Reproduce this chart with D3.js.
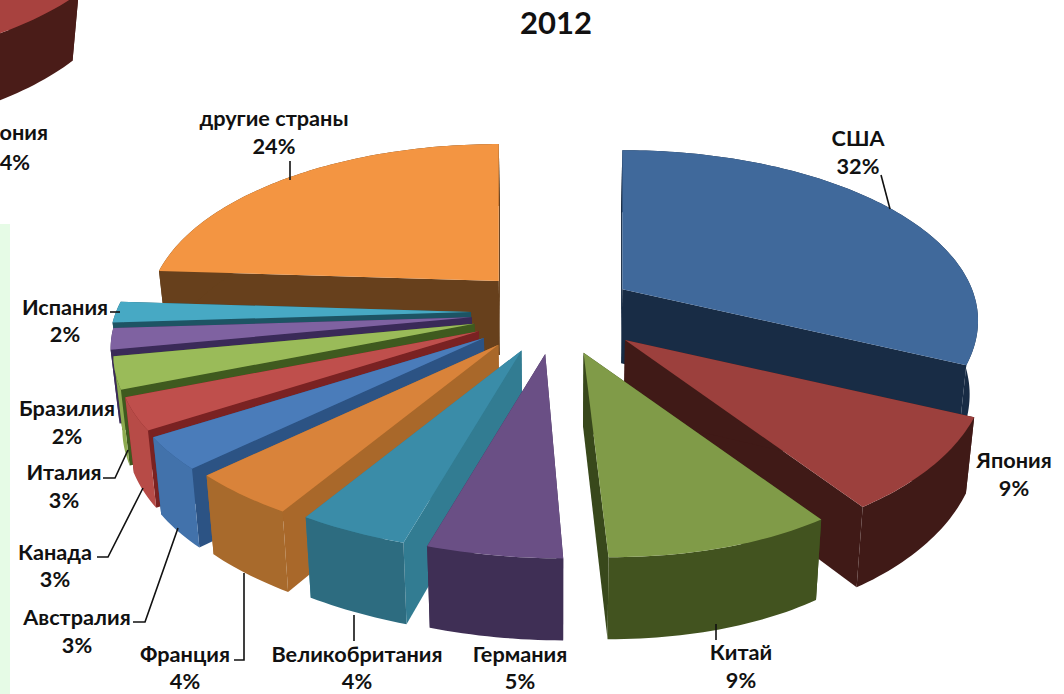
<!DOCTYPE html>
<html><head><meta charset="utf-8">
<script src="https://d3js.org/d3.v7.min.js"></script>
<style>html,body{margin:0;padding:0;background:#fff}svg{display:block}text{font-family:Lato,"Open Sans",sans-serif;font-weight:700;fill:#111}</style>
</head><body><svg id="c" width="1064" height="694"></svg>
<script>
// ---- data ----
const countries=["США","Япония","Китай","Германия","Великобритания","Франция","Австралия","Канада","Италия","Бразилия","Испания","другие страны"];
const shares=[32,9,9,5,4,4,3,3,3,2,2,24];
const chartTitle="2012";
// clipped neighbour pie (the 2011 chart) at the top-left corner
const neighbourShares=[37.5,12,50.5];
const neighbourLabel=["ония","4%"];
// ---- styles ----
const topColors =["#40699b","#9c403d","#809b48","#6a4f85","#3a8ca8","#d9833a","#4a7cba","#bf4f4c","#9abb59","#7f62a1","#47a9c4","#f39542"];
const outerColors=["#182c45","#401a17","#42531f","#3f2f55","#2d6c80","#a86a2c","#4272ab","#b74b47","#8dab50","#3a2a58","#1d5464","#67401c"];
const sideColors =["#182c45","#401a17","#38481b","#3f2f55","#327c92","#a9682a","#2c5384","#7a2222","#3f5a1f","#3a2a58","#1d5464","#67401c"];
// ---- layout ----
const W=1064,H=694, cx=559, cy=312;
const explodeX=[75,88,88,88,88,95,95,90,88,88,88,88], explodeY=42.5;
const radiusK=[0.985,1,1,1,1,1,1,1,1,1,1,0.97];
const R=355, tilt=167, persp=0.183;
const xs=d3.scaleLinear([-1,1],[-R,R]);
const ys=d3.scaleLinear([-1,1],[-tilt,tilt]);
const depth=d3.scaleLinear([-1,1],[62,82]);
const svg=d3.select("#c");
svg.append("rect").attr("width",10).attr("x",0).attr("y",224).attr("height",H-224).attr("fill","#e6fbe6");
const line=d3.line();
function rim(a,th,rk,leanAmt){
  const u=Math.sin(th),v=-Math.cos(th),s=rk/(1-persp*v);
  const lean=v>0?leanAmt*v*v*v*v:0;
  return [a[0]+xs(u)*s+lean,a[1]+ys(v)*s,v];
}
function lower(p,c,k){return [p[0]-(p[0]-c)*0.02,p[1]+depth(p[2]!==undefined?p[2]:0.2)*k];}
function drawSlice(g,d,a,c,k,rk,top,outer,side){
  const n=Math.max(2,Math.ceil((d.endAngle-d.startAngle)/0.02));
  const leanAmt=(d.startAngle+d.endAngle)/2<Math.PI?25:18;
  const arc=d3.range(n+1).map(i=>rim(a,d.startAngle+(d.endAngle-d.startAngle)*i/n,rk,leanAmt));
  const apex=[a[0],a[1],0.2];
  const aB=lower(apex,c,k);
  const arcB=arc.map(p=>lower(p,c,k));
  const first=arc[0],last=arc[n];
  g.append("path").attr("d",line([apex,last,lower(last,c,k),aB].map(p=>p.slice(0,2)))+"Z").attr("fill",side);
  g.append("path").attr("d",line([apex,first,lower(first,c,k),aB].map(p=>p.slice(0,2)))+"Z").attr("fill",side);
  g.append("path").attr("d",line(arc.map(p=>p.slice(0,2)).concat(arcB.slice().reverse()))+"Z").attr("fill",outer);
  g.append("path").attr("d",line([apex.slice(0,2)].concat(arc.map(p=>p.slice(0,2))))+"Z").attr("fill",top);
}
const pie=d3.pie().sort(null).value(d=>d);
const arcs=pie(shares).map((d,i)=>{
  const m=(d.startAngle+d.endAngle)/2;
  return {d,i,m,a:[cx+explodeX[i]*Math.sin(m),cy-explodeY*Math.cos(m)],key:-Math.cos(m)};
}).sort((p,q)=>p.key-q.key);
const gPie=svg.append("g");
arcs.forEach(s=>drawSlice(gPie.append("g"),s.d,s.a,cx,1,radiusK[s.i],topColors[s.i],outerColors[s.i],sideColors[s.i]));
// neighbour fragment
const nb=pie(neighbourShares)[1];
drawSlice(svg.append("g"),nb,[-216,-142],-223,0.85,1,"#a8423f","#4a1c18","#4a1c18");
// ---- labels ----
const labelPos=[[858,138,858,166],[1014,460,1014,488],[741,652,741,680],[520,654,520,681],[357,654,357,681],[185,654,185,681],[77,617,77,645],[55,552,55,579],[64,472,64,500],[67,408,67,436],[65,307,65,334],[274,118,274,146]];
const leaders=[[[881,175],[890,209]],null,[[716,624],[716,640]],null,[[354,615],[354,641]],[[244,573],[244,660],[234,660]],[[178,528],[145,622],[133,622]],[[143,488],[108,557],[97,557]],[[128,450],[115,478],[103,478]],null,[[120,312],[110,312]],[[290,161],[290,180]]];
leaders.forEach(l=>{if(l)svg.append("path").attr("d",line(l)).attr("fill","none").attr("stroke","#111").attr("stroke-width",1.6);});
const fs=21.7;
countries.forEach((c,i)=>{
  const p=labelPos[i];
  svg.append("text").attr("x",p[0]).attr("y",p[1]).attr("dy","0.35em").attr("text-anchor","middle").attr("font-size",fs).text(c);
  svg.append("text").attr("x",p[2]).attr("y",p[3]).attr("dy","0.35em").attr("text-anchor","middle").attr("font-size",fs).text(shares[i]+"%");
});
svg.append("text").attr("x",556).attr("y",23).attr("dy","0.35em").attr("text-anchor","middle").attr("font-size",31).text(chartTitle);
svg.append("text").attr("x",48).attr("y",132).attr("dy","0.35em").attr("text-anchor","end").attr("font-size",fs).text(neighbourLabel[0]);
svg.append("text").attr("x",30).attr("y",162).attr("dy","0.35em").attr("text-anchor","end").attr("font-size",fs).text(neighbourLabel[1]);
</script></body></html>
